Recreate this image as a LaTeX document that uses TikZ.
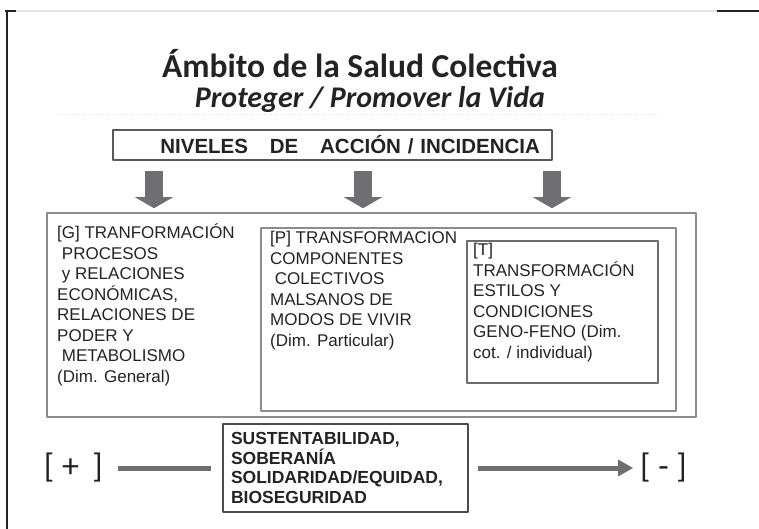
\documentclass[tikz,border=0pt]{standalone}
\usepackage{fontspec}
\setmainfont{Liberation Sans}
\newfontfamily\titlefont{Carlito}
\usetikzlibrary{arrows.meta,positioning}
\definecolor{txtgray}{RGB}{35,35,35}
\definecolor{boxgray}{RGB}{140,140,140}
\definecolor{arrgray}{RGB}{110,110,115}
\begin{document}
\begin{tikzpicture}[x=1pt,y=-1pt, line join=round, text=txtgray,
	caja/.style={draw=boxgray, line width=1.5pt, inner sep=0pt},
	texto/.style={anchor=north west, inner sep=0pt, align=left, font=\fontsize{17}{20.5}\selectfont},
	flechota/.style={draw=arrgray, line width=18pt, -{Triangle[length=11pt,width=38pt,line width=0pt]}, shorten <=10pt, shorten >=4pt},
	flecha/.style={draw=arrgray, line width=5pt},
	signo/.style={inner sep=0pt, font=\titlefont\fontsize{34}{38}\selectfont}]
	\useasboundingbox (0,0) rectangle (759,529);
	% marco de la diapositiva
	\draw[line width=2pt, txtgray] (5,11) -- (16,11) (7,11) -- (7,529);
	\draw[line width=2pt, gray!20] (16,11) -- (717,11);
	\draw[line width=2pt, txtgray] (717,11) -- (759,11);
	% titulo
	\node[font=\titlefont\bfseries\fontsize{33.5}{38}\selectfont] (titulo) at (360,64) {Ámbito de la Salud Colectiva};
	\node[font=\titlefont\bfseries\itshape\fontsize{30}{34}\selectfont] (lema) at (370,100) {Proteger / Promover la Vida};
	\draw[gray!20, dotted] (60,114) -- (660,114);
	% niveles
	\node[caja, draw=gray!70!black, line width=2pt, minimum height=30pt, text width=415pt, inner xsep=12pt, align=right,
		font=\bfseries\fontsize{20.5}{24}\selectfont] (niveles) at (332.5,145)
		{NIVELES\hspace{15pt} DE\hspace{15pt} ACCIÓN / INCIDENCIA};
	% cajas anidadas
	\node[caja, minimum width=649pt, minimum height=204pt] (cajaG) at (371.5,315) {};
	\node[caja, minimum width=415pt, minimum height=183pt] (cajaP) at (468.5,319.5) {};
	\node[caja, draw=gray!85!black, minimum width=191pt, minimum height=142pt] (cajaT) at (562.5,312) {};
	\node[texto] (txtG) at (57,224) {[G] TRANFORMACIÓN\\ \ PROCESOS\\ \ y RELACIONES\\ ECONÓMICAS,\\ RELACIONES DE\\ PODER Y\\ \ METABOLISMO\\ (Dim. General)};
	\node[texto] (txtP) at (270,231) {[P] TRANSFORMACION\\ COMPONENTES\\ \ COLECTIVOS\\ MALSANOS DE\\ MODOS DE VIVIR\\ (Dim. Particular)};
	\node[texto] (txtT) at (473,243) {[T]\\ TRANSFORMACIÓN\\ ESTILOS Y\\ CONDICIONES\\ GENO-FENO (Dim.\\ cot. / individual)};
	% flechas de niveles
	\foreach \xa in {154,363,552}
		\draw[flechota] (niveles.south -| \xa,0) -- (cajaG.north -| \xa,0);
	% escala inferior
	\node[draw=gray!60!black, line width=1.5pt, minimum height=88pt, text width=229pt, inner xsep=8pt, align=left,
		font=\bfseries\fontsize{17.5}{19.5}\selectfont] (sust) at (345.5,468)
		{SUSTENTABILIDAD,\\ SOBERANÍA\\ SOLIDARIDAD/EQUIDAD,\\ BIOSEGURIDAD};
	\node[signo, anchor=east] (mas) at (103,468) {[ + \,]};
	\node[signo, anchor=west] (menos) at (640,468) {[ - ]};
	\draw[flecha, shorten <=15pt, shorten >=11pt] (mas.east) -- (sust.west);
	\draw[flecha, -{Triangle[length=15pt,width=17pt,line width=0pt]}, shorten <=9pt, shorten >=7pt] (sust.east) -- (menos.west);
\end{tikzpicture}
\end{document}
